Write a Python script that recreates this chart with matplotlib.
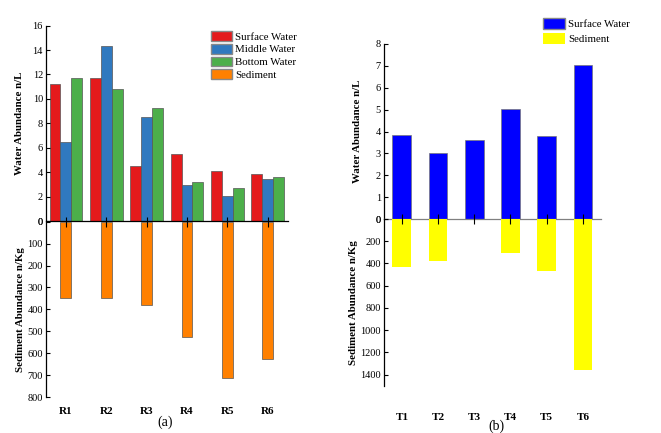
import matplotlib
matplotlib.use("Agg")
import numpy as np
import matplotlib.pyplot as plt
from matplotlib.patches import Patch

plt.rcParams["font.family"] = ["Liberation Serif", "DejaVu Serif"]

# ── Data ─────────────────────────────────────────────────────
sites_r = ["R1", "R2", "R3", "R4", "R5", "R6"]
surface_r = [11.2, 11.75, 4.5, 5.5, 4.15, 3.85]
middle_r = [6.45, 14.3, 8.5, 3.0, 2.05, 3.5]
bottom_r = [11.75, 10.8, 9.3, 3.25, 2.75, 3.6]
sediment_r = [350, 350, 378, 527, 715, 625]

sites_t = ["T1", "T2", "T3", "T4", "T5", "T6"]
surface_t = [3.85, 3.0, 3.6, 5.05, 3.79, 7.02]
sediment_t = [435, 378, 0, 303, 468, 1363]

# ── Colours ──────────────────────────────────────────────────
C_RED, C_BLUE, C_GREEN, C_ORANGE = "#e41a1c", "#3079bf", "#4caf4a", "#ff8000"
C_PBLUE, C_YELLOW = "#0000ff", "#ffff00"
EDGE = "#555555"

fig = plt.figure(figsize=(6.61, 4.33), dpi=100)


def style_axes(ax):
    for s in ["top", "right"]:
        ax.spines[s].set_visible(False)
    ax.spines["left"].set_linewidth(0.9)
    ax.tick_params(axis="y", direction="in", length=3, width=0.8,
                   labelsize=7.5, pad=2)
    ax.set_xlim(-0.5, 5.5)


# ── (a) ──────────────────────────────────────────────────────
x = np.arange(len(sites_r))
w = 0.27
ax1 = fig.add_axes([0.0691, 0.4885, 0.3666, 0.4526])
ax1.bar(x - w, surface_r, w, color=C_RED, edgecolor=EDGE, linewidth=0.5)
ax1.bar(x, middle_r, w, color=C_BLUE, edgecolor=EDGE, linewidth=0.5)
ax1.bar(x + w, bottom_r, w, color=C_GREEN, edgecolor=EDGE, linewidth=0.5)
style_axes(ax1)
ax1.set_ylim(0, 16)
ax1.set_yticks(range(0, 17, 2))
ax1.spines["bottom"].set_linewidth(0.9)
ax1.set_xticks([])
ax1.set_ylabel("Water Abundance n/L", fontsize=7.8, fontweight="bold",
               labelpad=6)

ax2 = fig.add_axes([0.0691, 0.0831, 0.3666, 0.4048])
ax2.patch.set_alpha(0)
ax2.bar(x, sediment_r, w, color=C_ORANGE, edgecolor=EDGE, linewidth=0.5)
style_axes(ax2)
ax2.spines["bottom"].set_visible(False)
ax2.set_ylim(800, 0)
ax2.set_yticks(range(0, 801, 100))
ax2.set_xticks(x)
ax2.set_xticklabels(sites_r, fontsize=8, fontweight="bold")
ax2.tick_params(axis="x", top=True, bottom=False, labeltop=False,
                labelbottom=True, direction="inout", length=7, width=0.8,
                pad=4)
ax2.set_ylabel("Sediment Abundance n/Kg", fontsize=7.8, fontweight="bold",
               labelpad=2)

handles_a = [Patch(facecolor=C_RED, edgecolor="#888888", label="Surface Water"),
             Patch(facecolor=C_BLUE, edgecolor="#888888", label="Middle Water"),
             Patch(facecolor=C_GREEN, edgecolor="#888888", label="Bottom Water"),
             Patch(facecolor=C_ORANGE, edgecolor="#888888", label="Sediment")]
fig.legend(handles=handles_a, loc="upper left",
           bbox_to_anchor=(0.312, 0.938), frameon=False, fontsize=7.8,
           handlelength=2.0, handleheight=1.0, labelspacing=0.2,
           handletextpad=0.3, borderaxespad=0)
fig.text(0.2505, 0.024, "(a)", ha="center", va="center", fontsize=10)

# ── (b) ──────────────────────────────────────────────────────
xt = np.arange(len(sites_t))
wb = 0.52
ax3 = fig.add_axes([0.5805, 0.4942, 0.3288, 0.4042])
ax3.bar(xt, surface_t, wb, color=C_PBLUE, edgecolor="#777777", linewidth=0.5)
style_axes(ax3)
ax3.set_ylim(0, 8)
ax3.set_yticks(range(0, 9))
ax3.spines["bottom"].set_color("#808080")
ax3.spines["bottom"].set_linewidth(0.9)
ax3.set_xticks([])
ax3.set_ylabel("Water Abundance n/L", fontsize=7.8, fontweight="bold",
               labelpad=10)

ax4 = fig.add_axes([0.5805, 0.1092, 0.3288, 0.385])
ax4.patch.set_alpha(0)
ax4.bar(xt, sediment_t, wb, color=C_YELLOW, edgecolor="none")
style_axes(ax4)
ax4.spines["bottom"].set_visible(False)
ax4.set_ylim(1500, 0)
ax4.set_yticks(range(0, 1401, 200))
ax4.set_xticks(xt)
ax4.set_xticklabels(sites_t, fontsize=8, fontweight="bold")
ax4.tick_params(axis="x", top=True, bottom=False, labeltop=False,
                labelbottom=True, direction="inout", length=7, width=0.8,
                pad=16)
ax4.set_ylabel("Sediment Abundance n/Kg", fontsize=7.8, fontweight="bold",
               labelpad=2)

handles_b = [Patch(facecolor=C_PBLUE, edgecolor="#888888", label="Surface Water"),
             Patch(facecolor=C_YELLOW, edgecolor="none", label="Sediment")]
fig.legend(handles=handles_b, loc="upper left",
           bbox_to_anchor=(0.815, 0.968), frameon=False, fontsize=7.8,
           handlelength=2.0, handleheight=1.2, labelspacing=0.3,
           handletextpad=0.3, borderaxespad=0)
fig.text(0.7505, 0.016, "(b)", ha="center", va="center", fontsize=10)

fig.savefig("out.png", dpi=100)
